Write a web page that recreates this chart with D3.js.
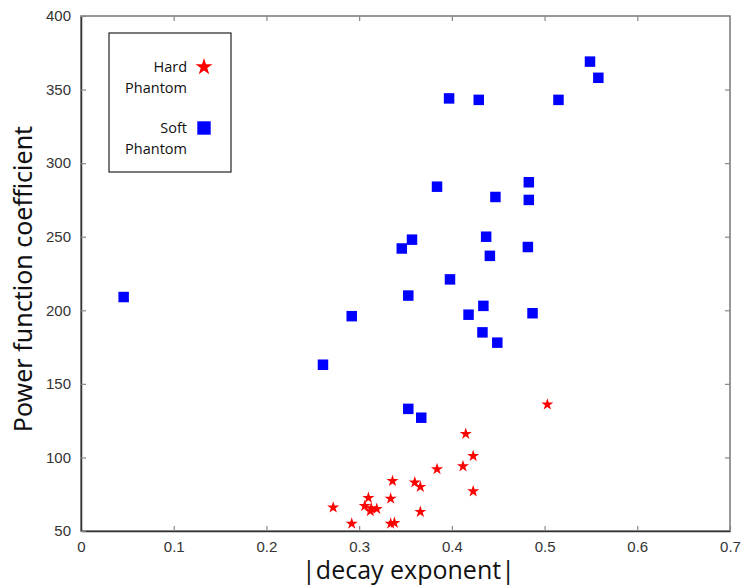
<!DOCTYPE html>
<html>
<head>
<meta charset="utf-8">
<script src="https://cdn.jsdelivr.net/npm/d3@7"></script>
<style>
  body { margin: 0; background: #fff; }
  svg { display: block; }
</style>
</head>
<body>
<div id="chart"></div>
<script>
// soft phantom (blue squares): [|decay exponent|, coefficient]
var softPhantom = [
  [0.046, 209], [0.261, 163], [0.292, 196], [0.549, 369], [0.558, 358],
  [0.397, 344], [0.429, 343], [0.515, 343], [0.384, 284], [0.483, 287],
  [0.447, 277], [0.483, 275], [0.357, 248], [0.346, 242], [0.437, 250],
  [0.441, 237], [0.482, 243], [0.398, 221], [0.353, 210], [0.418, 197],
  [0.434, 203], [0.487, 198], [0.433, 185], [0.449, 178], [0.353, 133],
  [0.367, 127]
]

// hard phantom (red stars)
var hardPhantom = [
  [0.503, 136], [0.415, 116], [0.423, 101], [0.412, 94], [0.384, 92],
  [0.336, 84], [0.360, 83], [0.366, 80], [0.423, 77], [0.310, 72.5],
  [0.334, 72], [0.272, 66], [0.306, 67], [0.312, 63.5], [0.319, 65],
  [0.313, 65.5], [0.366, 63], [0.292, 55], [0.334, 55], [0.338, 55.5]
]

var xTicks = [0, 0.1, 0.2, 0.3, 0.4, 0.5, 0.6, 0.7]
var yTicks = [50, 100, 150, 200, 250, 300, 350, 400]

var margin = { top: 16, left: 81, right: 13, bottom: 57 },
  width = 743 - margin.left - margin.right,
  height = 588 - margin.top - margin.bottom

var svg = d3.select("#chart")
  .append("svg")
  .attr("width", 743)
  .attr("height", 588)
  .append("g")
  .attr("transform", "translate(" + margin.left + "," + margin.top + ")")

var x = d3.scaleLinear().domain([0, 0.7]).range([0, width])
var y = d3.scaleLinear().domain([50, 400]).range([height, 0])

// frame: top and right lighter, like the original
svg.append("rect")
  .attr("width", width)
  .attr("height", height)
  .attr("fill", "none")
  .attr("stroke", "#777")
  .attr("stroke-width", 1.5)

var tickFont = "'Liberation Sans', Arial, sans-serif"

var xAxis = svg.append("g")
  .attr("transform", "translate(0," + height + ")")
  .call(d3.axisBottom(x).tickValues(xTicks).tickSizeInner(-5).tickSizeOuter(0).tickPadding(10)
    .tickFormat(function(d) { return d === 0 ? "0" : d3.format(".1f")(d) }))
xAxis.select(".domain").attr("stroke", "#333").attr("stroke-width", 1.5)

var yAxis = svg.append("g")
  .call(d3.axisLeft(y).tickValues(yTicks).tickSizeInner(-5).tickSizeOuter(0).tickPadding(10))
yAxis.select(".domain").attr("stroke", "#333").attr("stroke-width", 1.5)

// mirrored ticks on top and right
svg.append("g")
  .call(d3.axisTop(x).tickValues(xTicks.slice(1, -1)).tickSizeInner(-5).tickSizeOuter(0).tickFormat(""))
  .select(".domain").remove()
svg.append("g")
  .attr("transform", "translate(" + width + ",0)")
  .call(d3.axisRight(y).tickValues(yTicks.slice(1, -1)).tickSizeInner(-5).tickSizeOuter(0).tickFormat(""))
  .select(".domain").remove()

svg.selectAll(".tick line").attr("stroke", "#888").attr("stroke-width", 1.2)
svg.selectAll(".tick text")
  .attr("font-family", tickFont)
  .attr("font-size", 15)
  .attr("fill", "#333")

// axis titles
svg.append("text")
  .attr("x", width / 2 + 3)
  .attr("y", height + 48)
  .attr("text-anchor", "middle")
  .attr("font-family", "'Open Sans', sans-serif")
  .attr("font-size", 25)
  .attr("fill", "#111")
  .text("|decay exponent|")

svg.append("text")
  .attr("transform", "translate(" + (-49) + "," + 263 + ") rotate(-90)")
  .attr("text-anchor", "middle")
  .attr("font-family", "'Noto Sans', sans-serif")
  .attr("font-size", 25)
  .attr("fill", "#111")
  .text("Power function coefficient")

var star = d3.symbol().type(d3.symbolStar)
var square = d3.symbol().type(d3.symbolSquare)

svg.selectAll(".soft")
  .data(softPhantom)
  .enter().append("path")
  .attr("class", "soft")
  .attr("d", square.size(110))
  .attr("transform", function(d) { return "translate(" + x(d[0]) + "," + y(d[1]) + ")" })
  .attr("fill", "#0000ff")

svg.selectAll(".hard")
  .data(hardPhantom)
  .enter().append("path")
  .attr("class", "hard")
  .attr("d", star.size(45))
  .attr("transform", function(d) { return "translate(" + x(d[0]) + "," + y(d[1]) + ")" })
  .attr("fill", "#ff0000")

// legend
var legend = svg.append("g").attr("transform", "translate(28,17)")
legend.append("rect")
  .attr("width", 122)
  .attr("height", 139)
  .attr("fill", "#fff")
  .attr("stroke", "#222")
  .attr("stroke-width", 1.2)

var legendItems = [
  { lines: ["Hard", "Phantom"], sym: star.size(90), color: "#ff0000", y: 34 },
  { lines: ["Soft", "Phantom"], sym: square.size(180), color: "#0000ff", y: 95 }
]

legendItems.forEach(function(item) {
  var t = legend.append("text")
    .attr("text-anchor", "end")
    .attr("font-family", "'Open Sans', sans-serif")
    .attr("font-size", 14.5)
    .attr("fill", "#111")
  item.lines.forEach(function(line, i) {
    t.append("tspan").attr("x", 78).attr("y", item.y + 5 + i * 21).text(line)
  })
  legend.append("path")
    .attr("d", item.sym)
    .attr("transform", "translate(95," + item.y + ")")
    .attr("fill", item.color)
})
</script>
</body>
</html>
